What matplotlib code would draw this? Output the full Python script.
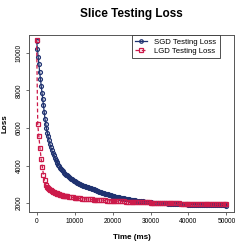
import matplotlib
matplotlib.use("Agg")
import matplotlib.pyplot as plt

plt.rcParams['font.family'] = ['Liberation Sans', 'DejaVu Sans']

# SGD testing loss (time in ms)
sgd_t = [0, 200, 400, 600, 800, 1000, 1200, 1400, 1600, 1800, 2000, 2200,
         2400, 2600, 2800, 3000,
         3250, 3500, 3750, 4000, 4250, 4500, 4750, 5000, 5250, 5500, 5750,
         6000, 6250, 6500, 6750, 7000, 7250, 7500, 7750, 8000, 8250, 8500,
         8750, 9000, 9250, 9500, 9750, 10000, 10250, 10500, 10750, 11000,
         11250, 11500, 11750, 12000, 12250, 12500, 12750, 13000,
         13250, 13500, 13750, 14000, 14250, 14500, 14750, 15000, 15250,
         15500, 15750, 16000, 16250, 16500, 16750, 17000, 17250, 17500,
         17750, 18000, 18250, 18500, 18750, 19000, 19250, 19500, 19750,
         20000, 20250, 20500, 20750, 21000, 21250, 21500, 21750, 22000,
         22250, 22500, 22750, 23000, 23250, 23500, 23750, 24000, 24250,
         24500, 24750, 25000, 25250, 25500, 25750, 26000,
         26500, 27000, 27500, 28000, 28500, 29000, 29500,
         30000, 30500, 31000, 31500, 32000, 32500, 33000, 33500, 34000,
         34500, 35000, 35500, 36000, 36500, 37000, 37500, 38000, 38500,
         39000, 39500, 40000, 40500, 41000, 41500, 42000, 42500, 43000,
         43500, 44000, 44500, 45000, 45500, 46000, 46500, 47000, 47500,
         48000, 48500, 49000, 49500, 50000]
sgd_loss = [10650, 10230, 9790, 9390, 8990, 8630, 8230, 7890, 7540, 7200,
            6850, 6500, 6225, 5980, 5760, 5565,
            5344, 5150, 4973, 4815, 4672, 4540, 4423, 4314, 4213, 4120, 4035,
            3956, 3881, 3812, 3747, 3687, 3630, 3576, 3525, 3478, 3432, 3389,
            3349, 3310, 3273, 3238, 3205, 3173, 3143, 3113, 3086, 3059,
            3033, 3009, 2985, 2962, 2940, 2919, 2899, 2879,
            2860, 2840, 2820, 2800, 2782, 2765, 2748, 2730, 2712,
            2695, 2675, 2655, 2635, 2615, 2598, 2580, 2562, 2545,
            2528, 2510, 2495, 2480, 2465, 2450, 2435, 2420, 2407,
            2395, 2380, 2365, 2352, 2340, 2327, 2315, 2302, 2290,
            2280, 2270, 2260, 2250, 2240, 2230, 2220, 2210, 2202,
            2195, 2185, 2175, 2167, 2160, 2152, 2145,
            2130, 2115, 2100, 2090, 2075, 2065, 2050,
            2040, 2030, 2020, 2015, 2005, 2000, 1995, 1990, 1985,
            1980, 1975, 1970, 1965, 1960, 1955, 1950, 1945, 1940,
            1935, 1930, 1925, 1920, 1918, 1915, 1912, 1910, 1907,
            1905, 1902, 1900, 1897, 1895, 1892, 1890, 1887, 1885,
            1882, 1880, 1878, 1876, 1874]

# LGD testing loss
lgd_t = [0, 300, 600, 900, 1200, 1500, 1800, 2100, 2400, 2700, 3000,
         3250, 3500, 3750, 4000, 4250, 4500, 4750, 5000, 5250, 5500, 5750,
         6000, 6250, 6500, 6750, 7000, 7250, 7500, 7750, 8000, 8500,
         9000, 9500, 10000, 10500, 11000, 11500, 12000, 12500, 13000,
         13500, 14000, 14500, 15000, 15500, 16000, 16500, 17000, 17500,
         18000, 18500, 19000, 19500, 20000, 20500, 21000, 21500, 22000,
         22500, 23000, 23500, 24000, 24500, 25000, 25500, 26000, 26500,
         27000, 27500, 28000, 28500, 29000, 29500, 30000, 30500, 31000,
         31500, 32000, 32500, 33000, 33500, 34000, 34500, 35000, 35500,
         36000, 36500, 37000, 37500, 38000, 38500, 39000, 39500, 40000,
         40500, 41000, 41500, 42000, 42500, 43000, 43500, 44000, 44500,
         45000, 45500, 46000, 46500, 47000, 47500, 48000, 48500, 49000,
         49500, 50000]
lgd_loss = [10690, 6190, 5550, 4920, 4350, 3950, 3520, 3210, 2980, 2850,
            2790, 2755, 2720, 2680, 2640, 2610, 2585, 2562, 2540, 2520,
            2500, 2482, 2465, 2447, 2430, 2415, 2400, 2390, 2380, 2370,
            2360, 2340, 2325, 2305, 2290, 2275, 2265, 2250, 2240, 2230,
            2220, 2212, 2204, 2196, 2188, 2180, 2173, 2166, 2159, 2152,
            2145, 2139, 2133, 2127, 2121, 2116, 2111, 2106, 2101, 2096,
            2091, 2087, 2083, 2079, 2075, 2071, 2067, 2063, 2059, 2055,
            2051, 2047, 2043, 2039, 2035, 2031, 2027, 2024, 2020, 2017,
            2013, 2010, 2006, 2003, 2000, 1997, 1994, 1991, 1988, 1985,
            1982, 1980, 1977, 1975, 1972, 1970, 1968, 1966, 1964, 1962,
            1960, 1958, 1956, 1954, 1952, 1950, 1948, 1946, 1944, 1942,
            1940, 1938, 1936, 1934, 1932]

x_ticks = [0, 10000, 20000, 30000, 40000, 50000]
y_ticks = [2000, 4000, 6000, 8000, 10000]

blue = '#1f3270'
red = '#cc1a4a'

fig = plt.figure(figsize=(2.49, 2.49), dpi=100)
ax = fig.add_axes([0.1165, 0.1486, 0.8235, 0.7108])

ax.plot(sgd_t, sgd_loss, color=blue, linestyle='-', linewidth=0.9,
        marker='o', markersize=2.8, markerfacecolor='none',
        markeredgewidth=0.9, label='SGD Testing Loss')
ax.plot(lgd_t, lgd_loss, color=red, linestyle='--', linewidth=0.9,
        dashes=(3, 2), marker='s', markersize=2.8, markerfacecolor='none',
        markeredgewidth=0.9, label='LGD Testing Loss')

ax.set_xlim(-2000, 52000)
ax.set_ylim(1530, 10950)
ax.set_xticks(x_ticks)
ax.set_xticklabels([str(v) for v in x_ticks])
ax.set_yticks(y_ticks)
ax.set_yticklabels([str(v) for v in y_ticks], rotation=90, va='center')
ax.tick_params(labelsize=4.8, length=2.5, width=0.6, color='#555555', pad=2)

for s in ax.spines.values():
    s.set_color('#555555')
    s.set_linewidth(0.7)

ax.set_title('Slice Testing Loss', fontsize=8.5, fontweight='bold', pad=13)
ax.set_xlabel('Time (ms)', fontsize=5.8, fontweight='bold', labelpad=6)
ax.set_ylabel('Loss', fontsize=5.8, fontweight='bold', labelpad=5)

leg = ax.legend(loc='upper right', bbox_to_anchor=(0.932, 1.0), fontsize=5.6,
                handlelength=1.6, handletextpad=0.9, borderpad=0.45,
                labelspacing=0.2, borderaxespad=0, markerscale=0.9,
                fancybox=False, framealpha=1)
leg.get_frame().set_edgecolor('#333333')
leg.get_frame().set_linewidth(0.6)

fig.savefig('out.png', dpi=100)
